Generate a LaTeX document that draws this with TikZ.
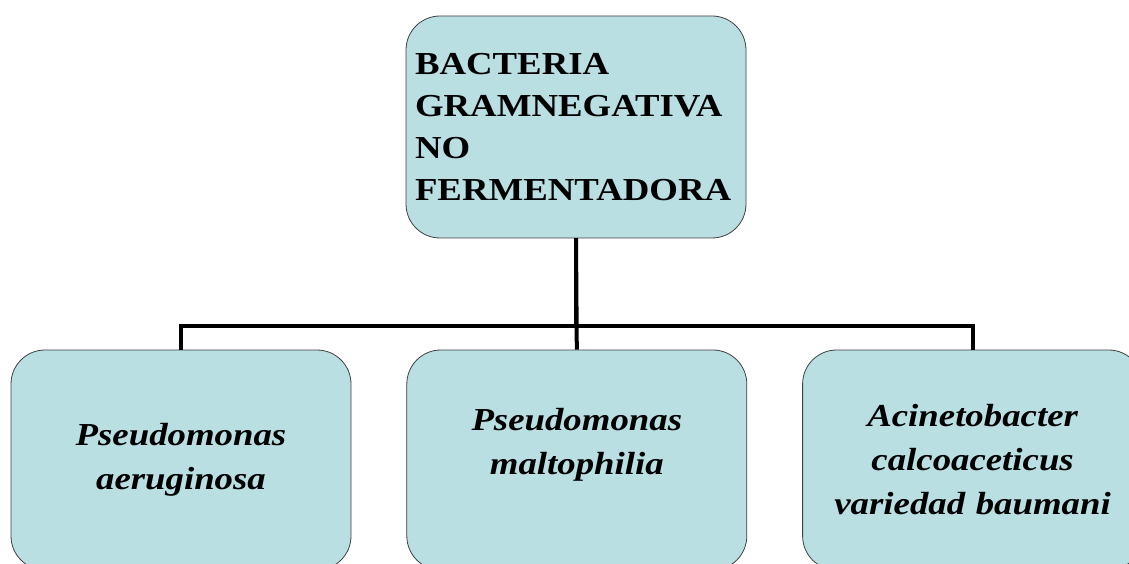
\documentclass[tikz,border=0pt]{standalone}
\usepackage{fontspec}
\setmainfont[FakeStretch=1.15]{Liberation Serif}
\usepackage{xcolor}
\usetikzlibrary{positioning}
\usetikzlibrary{shapes}

\definecolor{boxblue}{RGB}{185,223,227}

\begin{document}
\begin{tikzpicture}[x=1pt,y=1pt,
    genbox/.style={draw=black!75, line width=0.8pt, fill=boxblue,
        rounded corners=34pt, minimum width=340pt, inner sep=0pt},
    sppbox/.style={genbox, minimum height=220pt, text width=320pt, align=center,
        font=\bfseries\itshape\fontsize{32}{44}\selectfont},
    link/.style={line width=4pt}]
    \clip (0,0) rectangle (1129,563);
    \node[genbox, minimum height=222pt, text width=322pt, align=left,
        font=\bfseries\fontsize{32}{42}\selectfont] (B) at (576,436)
        {BACTERIA\\ GRAMNEGATIVA\\ NO\\ FERMENTADORA};
    \node[sppbox] (S1) at (181,103) {Pseudomonas\\ aeruginosa};
    \node[sppbox, right=55pt of S1, text depth=82pt] (S2) {Pseudomonas\\ maltophilia};
    \node[sppbox, right=55pt of S2] (S3) {Acinetobacter\\ calcoaceticus\\ variedad baumani};
    \draw[link] (B.south) -- (S2.north);
    \draw[link] (B.south) -- ++(0,-88) -| (S1.north);
    \draw[link] (B.south) -- ++(0,-88) -| (S3.north);
\end{tikzpicture}
\end{document}
